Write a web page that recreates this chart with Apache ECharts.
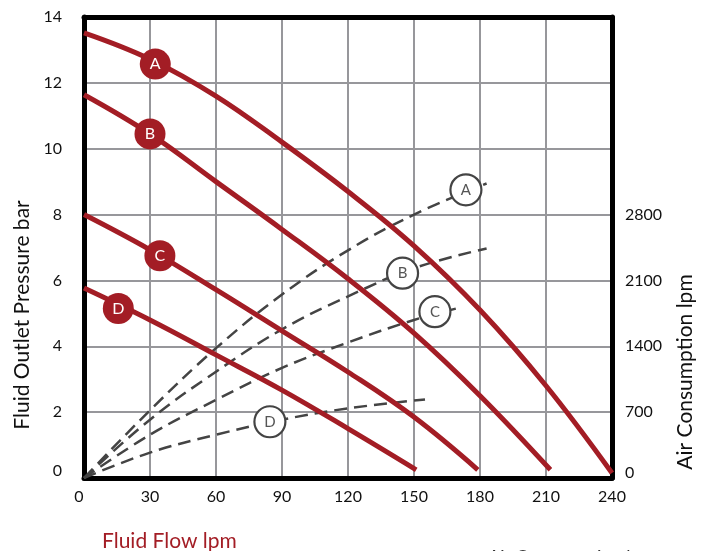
<!DOCTYPE html>
<html>
<head>
<meta charset="utf-8">
<script src="https://cdn.jsdelivr.net/npm/echarts@6/dist/echarts.min.js"></script>
<style>
html,body{margin:0;padding:0;background:#fff;}
#chart{width:712px;height:551px;}
</style>
</head>
<body>
<div id="chart"></div>
<script>
// ---- data (x = fluid flow lpm) ----
const xTicks = [0, 30, 60, 90, 120, 150, 180, 210, 240];
const pressureTicks = [0, 2, 4, 6, 8, 10, 12, 14];
const airTicks = [0, 700, 1400, 2100, 2800];

// Fluid outlet pressure curves (bar)
const pressureA = [[0,13.52],[30,12.72],[60,11.6],[90,10.2],[120,8.7],[150,7.05],[180,5.1],[210,2.8],[240,0.15]];
const pressureB = [[0,11.64],[30,10.45],[60,9.0],[90,7.55],[120,6.05],[150,4.4],[180,2.5],[212,0.25]];
const pressureC = [[0,8.0],[30,6.93],[60,5.72],[90,4.47],[120,3.22],[150,1.85],[179,0.25]];
const pressureD = [[0,5.77],[30,4.8],[60,3.74],[90,2.67],[120,1.5],[151,0.25]];

// Air consumption curves (lpm)
const airA = [[0,0],[30,720],[60,1380],[90,1950],[120,2420],[150,2800],[183,3130]];
const airB = [[0,0],[30,620],[60,1130],[90,1580],[120,1930],[150,2230],[183,2440]];
const airC = [[0,0],[30,460],[60,830],[90,1170],[120,1440],[150,1680],[169,1800]];
const airD = [[0,0],[30,270],[60,460],[90,620],[120,740],[155,835]];

// label markers
const pressureMarkers = [['A',32.4,12.57],['B',30,10.45],['C',34.5,6.75],['D',15.6,5.15]];
const airMarkers = [['A',173.6,3063],['B',144.8,2177],['C',159.5,1768],['D',84.5,598]];

const RED = '#a31d25';
const DASH = '#444444';
const FONT = 'Lato';

const chart = echarts.init(document.getElementById('chart'));

function redLine(data){
  return {type:'line', yAxisIndex:0, xAxisIndex:0, data:data, showSymbol:false, smooth:0.4,
    lineStyle:{color:RED, width:5}, z:5, silent:true};
}
function dashLine(data){
  return {type:'line', yAxisIndex:1, xAxisIndex:0, data:data, showSymbol:false, smooth:0.4,
    lineStyle:{color:DASH, width:2.5, type:[13,7]}, z:4, silent:true};
}

const option = {
  animation:false,
  backgroundColor:'#fff',
  grid:{left:84, right:100, top:17, bottom:73, containLabel:false},
  title:{text:'Fluid Flow lpm', left:97, top:526,
    textStyle:{color:RED, fontFamily:FONT, fontSize:21, fontWeight:'normal'}},
  xAxis:[{
    type:'value', min:0, max:240, interval:30, position:'bottom',
    axisLine:{show:true, onZero:false, lineStyle:{color:'#000', width:5}},
    axisTick:{show:false},
    axisLabel:{color:'#111', fontFamily:FONT, fontSize:16, margin:11,
      formatter:v=>xTicks.indexOf(v)>=0?(v===0?'{z|0}':String(v)):'',
      rich:{z:{padding:[0,10,0,0], fontFamily:FONT, fontSize:16, color:'#111'}}},
    splitLine:{show:true, showMinLine:false, showMaxLine:false, lineStyle:{color:'#97979b', width:2}}
  },{
    type:'value', min:0, max:240, interval:30, position:'top',
    axisLine:{show:true, onZero:false, lineStyle:{color:'#000', width:5}},
    axisTick:{show:false}, axisLabel:{show:false}, splitLine:{show:false}
  }],
  yAxis:[{
    type:'value', min:0, max:14, interval:2, position:'left',
    axisLine:{show:true, onZero:false, lineStyle:{color:'#000', width:5}},
    axisTick:{show:false},
    axisLabel:{color:'#111', fontFamily:FONT, fontSize:16, margin:22,
      formatter:v=>pressureTicks.indexOf(v)>=0?(v===0?'{z|0}':String(v)):'',
      rich:{z:{padding:[0,0,14,0], fontFamily:FONT, fontSize:16, color:'#111'}}},
    splitLine:{show:true, showMinLine:false, showMaxLine:false, lineStyle:{color:'#97979b', width:2}}
  },{
    type:'value', min:0, max:4900, interval:700, position:'right',
    axisLine:{show:true, onZero:false, lineStyle:{color:'#000', width:5}},
    axisTick:{show:false},
    axisLabel:{color:'#111', fontFamily:FONT, fontSize:16, margin:13, align:'left',
      formatter:v=>airTicks.indexOf(v)>=0?(v===0?'{z|0}':String(v)):'',
      rich:{z:{padding:[0,0,10,0], fontFamily:FONT, fontSize:16, color:'#111'}}},
    splitLine:{show:false}
  }],
  graphic:[
    {type:'text', x:22, y:315, rotation:Math.PI/2,
      style:{text:'Fluid Outlet Pressure bar', fill:'#111', font:'21px '+FONT, textAlign:'center', textVerticalAlign:'middle'}},
    {type:'text', x:685, y:372, rotation:Math.PI/2,
      style:{text:'Air Consumption lpm', fill:'#111', font:'21px '+FONT, textAlign:'center', textVerticalAlign:'middle'}},
    {type:'text', x:488, y:548,
      style:{text:'Air Consumption lpm', fill:'#333', font:'18px '+FONT, textAlign:'left', textVerticalAlign:'top'}}
  ],
  series:[
    dashLine(airA), dashLine(airB), dashLine(airC), dashLine(airD),
    redLine(pressureA), redLine(pressureB), redLine(pressureC), redLine(pressureD),
    {type:'scatter', yAxisIndex:0, symbol:'circle', symbolSize:31, z:10, silent:true,
      data:pressureMarkers.map(m=>({value:[m[1],m[2]], name:m[0]})),
      itemStyle:{color:RED, opacity:1},
      label:{show:true, position:'inside', formatter:p=>p.name, color:'#fff', fontFamily:FONT, fontSize:16}},
    {type:'scatter', yAxisIndex:1, symbol:'circle', symbolSize:31, z:10, silent:true,
      data:airMarkers.map(m=>({value:[m[1],m[2]], name:m[0]})),
      itemStyle:{color:'#fff', borderColor:DASH, borderWidth:2.2, opacity:1},
      label:{show:true, position:'inside', formatter:p=>p.name, color:'#555', fontFamily:FONT, fontSize:15}}
  ]
};
chart.setOption(option);
</script>
</body>
</html>
